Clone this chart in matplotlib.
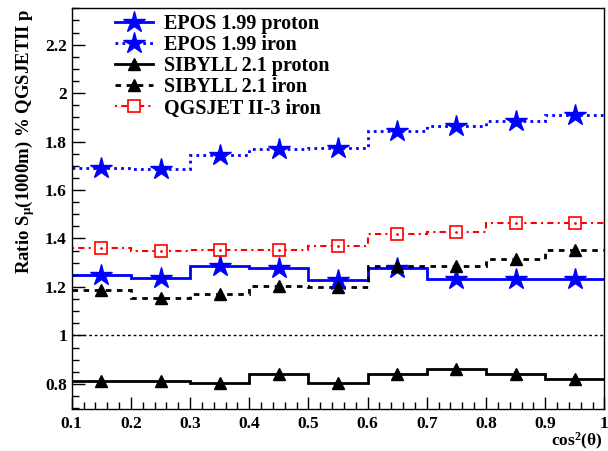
import numpy as np
import matplotlib
matplotlib.use("Agg")
import matplotlib.pyplot as plt
from matplotlib.lines import Line2D

plt.rcParams['font.family'] = ['Liberation Serif', 'DejaVu Serif']
plt.rcParams['font.weight'] = 'bold'
plt.rcParams['mathtext.fontset'] = 'custom'
plt.rcParams['mathtext.rm'] = 'Liberation Serif:bold'
plt.rcParams['mathtext.it'] = 'Liberation Serif:bold'
plt.rcParams['mathtext.bf'] = 'Liberation Serif:bold'

# cos^2(theta) bins
edges = np.arange(0.1, 1.01, 0.1)
centers = 0.5 * (edges[:-1] + edges[1:])

epos_p = [1.248, 1.238, 1.287, 1.280, 1.230, 1.278, 1.234, 1.234, 1.232]
epos_fe = [1.690, 1.686, 1.744, 1.769, 1.772, 1.843, 1.865, 1.884, 1.911]
sib_p = [0.811, 0.811, 0.803, 0.839, 0.805, 0.839, 0.862, 0.842, 0.821]
sib_fe = [1.186, 1.156, 1.172, 1.204, 1.200, 1.285, 1.285, 1.317, 1.351]
qgs_fe = [1.361, 1.349, 1.354, 1.354, 1.369, 1.417, 1.427, 1.462, 1.466]

labels = ['EPOS 1.99 proton', 'EPOS 1.99 iron', 'SIBYLL 2.1 proton',
          'SIBYLL 2.1 iron', 'QGSJET II-3 iron']
xtick_labels = ['0.1', '0.2', '0.3', '0.4', '0.5', '0.6', '0.7', '0.8', '0.9', '1']
ytick_vals = [0.8, 1.0, 1.2, 1.4, 1.6, 1.8, 2.0, 2.2]
ytick_labels = ['0.8', '1', '1.2', '1.4', '1.6', '1.8', '2', '2.2']

fig = plt.figure(figsize=(6.08, 4.51), dpi=100)
ax = fig.add_axes([0.118, 0.0925, 0.876, 0.889])

ax.axhline(1.0, color='black', lw=1, ls=(0, (2, 2)))

dot = (0, (1, 1.5))
series = [
    (epos_p, 'blue', '-', 2, dict(marker='*', ms=16)),
    (epos_fe, 'blue', dot, 2, dict(marker='*', ms=16)),
    (sib_p, 'black', '-', 2, dict(marker='^', ms=9)),
    (sib_fe, 'black', (0, (2, 2)), 2, dict(marker='^', ms=9)),
    (qgs_fe, 'red', (0, (1, 2, 3, 2)), 1.5,
     dict(marker='s', ms=9, mfc='white', mew=1.2)),
]

handles = []
for vals, col, ls, lw, mkw in series:
    ax.stairs(vals, edges, baseline=None, color=col, ls=ls, lw=lw)
    ax.plot(centers, vals, ls='none', color=col, zorder=3, **mkw)
    if mkw['marker'] == 's':
        ax.plot(centers, vals, ls='none', marker='.', ms=2, color=col, zorder=4)
    handles.append(Line2D([], [], color=col, ls=ls, lw=lw, **mkw))

ax.legend(handles, labels, loc='upper left', bbox_to_anchor=(0.066, 1.005),
          frameon=False, prop=dict(size=14.5, weight='bold'), labelspacing=0.05,
          handlelength=1.9, handletextpad=0.55, borderaxespad=0, numpoints=1)

ax.set_xlim(0.1, 1.0)
ax.set_ylim(0.695, 2.35)
ax.set_xticks(edges)
ax.set_xticklabels(xtick_labels, fontweight='bold')
ax.set_xticks(np.arange(0.1, 1.001, 0.02), minor=True)
ax.set_yticks(ytick_vals)
ax.set_yticklabels(ytick_labels, fontweight='bold')
ax.set_yticks(np.arange(0.7, 2.351, 0.05), minor=True)
ax.tick_params(which='both', direction='in', top=False, right=False, labelsize=12.5)
ax.tick_params(which='major', length=9, width=1)
ax.tick_params(which='minor', length=5, width=1)
ax.tick_params(axis='x', pad=5)
for s in ax.spines.values():
    s.set_linewidth(1)

ax.set_ylabel(r'Ratio S$_{\mu}$(1000m) % QGSJETII p', fontsize=13.5, fontweight='bold',
              loc='top', labelpad=6)
ax.set_xlabel(r'cos$^{2}$($\theta$)', fontsize=12.5, fontweight='bold', loc='right')
ax.xaxis.set_label_coords(0.996, -0.055)

fig.savefig('out.png', dpi=100)
